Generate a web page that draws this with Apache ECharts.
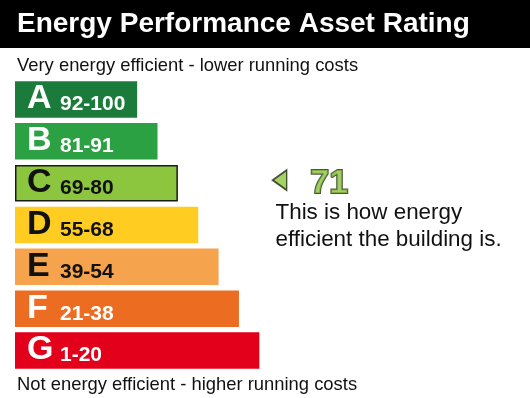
<!DOCTYPE html>
<html><head><meta charset="utf-8">
<script src="https://cdn.jsdelivr.net/npm/echarts@6/dist/echarts.min.js"></script>
<style>html,body{margin:0;padding:0;background:#fff}#c{width:530px;height:398px}</style>
</head><body><div id="c"></div>
<script>
// ---- data ----
const bands = ['A', 'B', 'C', 'D', 'E', 'F', 'G'];
const ranges = ['92-100', '81-91', '69-80', '55-68', '39-54', '21-38', '1-20'];
const rangeMin = [92, 81, 69, 55, 39, 21, 1];
const barLengths = [6, 7, 8, 9, 10, 11, 12];
const rating = 71;
const titleText = 'Energy Performance Asset Rating';
const topText = 'Very energy efficient - lower running costs';
const bottomText = 'Not energy efficient - higher running costs';
const noteLines = ['This is how energy', 'efficient the building is.'];

// ---- styling ----
const FONT = '"Liberation Sans", Arial, sans-serif';
const bandColors = ['#1b7b3a', '#2ba143', '#8cc63e', '#ffcc21', '#f6a34e', '#ec6c22', '#e2001a'];
const labelColors = ['#ffffff', '#ffffff', '#111111', '#111111', '#111111', '#ffffff', '#ffffff'];
const ratingIdx = rangeMin.findIndex(m => rating >= m);
const ratingBand = bands[ratingIdx];
const indicatorX = 13; // layout position of the pointer in axis units

const chart = echarts.init(document.getElementById('c'), null, {renderer: 'canvas'});

const barData = barLengths.map((v, i) => ({
  value: v,
  itemStyle: Object.assign({color: bandColors[i]},
    i === ratingIdx ? {borderColor: '#1a1a1a', borderWidth: 1.5} : {}),
  label: {color: labelColors[i]}
}));

const option = {
  animation: false,
  backgroundColor: '#ffffff',
  grid: {left: 15, width: 509, top: 78.5, height: 293, containLabel: false},
  xAxis: {type: 'value', min: 0, max: 25, show: false},
  yAxis: {type: 'category', data: bands, inverse: true, show: false},
  graphic: [
    {type: 'rect', shape: {x: 0, y: 0, width: 530, height: 48}, style: {fill: '#000000'}, z: 0},
    {type: 'text', x: 17, y: 24.6, style: {text: titleText, font: 'bold 28px ' + FONT, fill: '#ffffff', verticalAlign: 'middle'}},
    {type: 'text', x: 17, y: 65.6, style: {text: topText, font: '18.4px ' + FONT, fill: '#111111', verticalAlign: 'middle'}},
    {type: 'text', x: 17, y: 384.6, style: {text: bottomText, font: '18.4px ' + FONT, fill: '#111111', verticalAlign: 'middle'}},
    {type: 'text', x: 275.5, y: 212.5, style: {text: noteLines[0], font: '22.4px ' + FONT, fill: '#111111', verticalAlign: 'middle'}},
    {type: 'text', x: 275.5, y: 240.2, style: {text: noteLines[1], font: '22.4px ' + FONT, fill: '#111111', verticalAlign: 'middle'}}
  ],
  series: [
    {
      type: 'bar',
      data: barData,
      barWidth: 36.5,
      label: {
        show: true,
        position: 'insideLeft',
        distance: 12,
        formatter: p => '{l|' + bands[p.dataIndex] + '}{r|' + ranges[p.dataIndex] + '}',
        rich: {
          l: {fontSize: 34, fontWeight: 'bold', fontFamily: FONT, width: 33, verticalAlign: 'bottom', padding: [0, 0, 1, 0]},
          r: {fontSize: 21, fontWeight: 'bold', fontFamily: FONT, verticalAlign: 'bottom', padding: [0, 0, 2, 0]}
        }
      }
    },
    {
      type: 'scatter',
      data: [[indicatorX, ratingBand]],
      symbol: 'path://M0,10L14,0L14,20Z',
      symbolSize: [14, 20],
      symbolOffset: [0, -3],
      itemStyle: {color: bandColors[ratingIdx], borderColor: '#1f2b0b', borderWidth: 1.6},
      label: {
        show: true,
        position: 'right',
        distance: 23,
        formatter: String(rating),
        fontSize: 34,
        fontWeight: 'bold',
        fontFamily: FONT,
        color: bandColors[ratingIdx],
        textBorderColor: '#1f2b0b',
        textBorderWidth: 2,
        offset: [0, 3]
      }
    }
  ]
};
chart.setOption(option);
</script>
</body></html>
